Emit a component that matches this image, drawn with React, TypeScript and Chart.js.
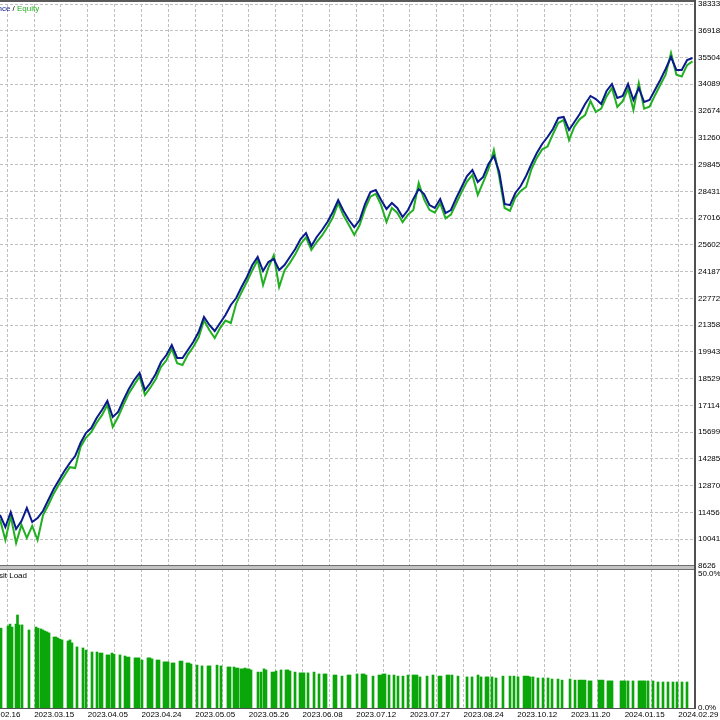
import React, { useEffect, useRef } from 'react';
import { Chart, registerables } from 'chart.js';

Chart.register(...registerables);

// Balance curve, one sample per session index
const BALANCE = [
  11322, 10687, 11480, 10582, 11004, 11692, 10952, 11163, 11533, 12114,
  12696, 13172, 13647, 14070, 14440, 15127, 15656, 15920, 16449, 16872,
  17348, 16502, 16766, 17400, 17982, 18458, 18828, 17929, 18299, 18775,
  19409, 19779, 20308, 19621, 19621, 20043, 20466, 20995, 21788, 21365,
  21048, 21471, 21894, 22422, 22792, 23374, 23902, 24537, 24959, 24219,
  24695, 24854, 24272, 24537, 24959, 25382, 25911, 26228, 25541, 26017,
  26387, 26810, 27338, 27972, 27391, 26915, 26545, 26915, 27761, 28395,
  28501, 27972, 27497, 27814, 27550, 27074, 27444, 28025, 28554, 28290,
  27708, 27550, 28025, 27285, 27444, 28078, 28660, 29241, 29558, 28924,
  29188, 29875, 30298, 29453, 27760, 27700, 28342, 28712, 29241, 29875,
  30457, 30933, 31303, 31726, 32307, 32360, 31673, 32096, 32518, 33047,
  33470, 33311, 33047, 33734, 34104, 33364, 33470, 34104, 33258, 33893,
  33153, 33258, 33787, 34316, 34897, 35531, 34844, 34844, 35373, 35479,
];

const EQUITY = [
  11100, 10000, 11250, 9841, 10800, 10105, 10750, 10000, 11300, 11850,
  12450, 12950, 13400, 13850, 13806, 14916, 15400, 15700, 16200, 16600,
  17150, 15973, 16500, 17150, 17750, 18200, 18650, 17664, 18050, 18500,
  19150, 19500, 20100, 19350, 19250, 19800, 20200, 20700, 21600, 21100,
  20677, 21200, 21600, 21470, 22500, 23100, 23650, 24250, 24800, 23479,
  24400, 25050, 23374, 24250, 24650, 25100, 25650, 26000, 25329, 25750,
  26100, 26550, 27050, 27800, 27150, 26650, 26122, 26650, 27500, 28150,
  28300, 27700, 26809, 27550, 27300, 26800, 27200, 27443, 28871, 28000,
  27450, 27300, 27800, 27000, 27200, 27800, 28400, 28950, 29300, 28236,
  28900, 29600, 30615, 29200, 27550, 27400, 28100, 28450, 28659, 29600,
  30200, 30650, 30800, 31450, 32050, 32200, 31144, 31850, 32250, 32465,
  33200, 32624, 32800, 33450, 33900, 32888, 33200, 33850, 32729, 34157,
  32800, 32900, 33500, 34050, 34600, 35743, 34600, 34500, 35100, 35300,
];

// Deposit load bars: session position and load in percent
const LOAD_AT = [
  0.19, 1.49, 1.86, 2.24, 2.98, 3.26, 3.54, 4.10, 5.40, 6.71,
  7.08, 7.64, 8.01, 8.38, 8.76, 9.13, 10.06, 10.43, 10.80, 11.18,
  11.55, 12.67, 13.04, 13.41, 14.34, 15.46, 16.02, 17.14, 18.07, 18.63,
  19.00, 19.93, 20.31, 20.86, 21.24, 22.35, 23.29, 23.66, 24.03, 25.15,
  25.52, 25.89, 26.45, 27.57, 27.94, 28.32, 29.25, 29.62, 30.55, 30.92,
  31.30, 32.04, 32.41, 33.53, 33.90, 34.84, 35.21, 35.58, 36.70, 37.63,
  38.75, 39.12, 40.43, 41.17, 42.47, 42.85, 43.59, 43.96, 44.34,
  44.90, 45.27, 45.64, 46.01, 46.39, 46.76, 48.06, 48.62, 49.18, 49.55,
  50.67, 51.04, 51.42, 52.35, 53.28, 53.65, 54.02, 54.96, 55.89, 56.26,
  56.63, 57.38, 58.50, 59.43, 60.36, 60.73, 62.22, 62.59, 63.71, 64.83,
  65.20, 66.51, 67.44, 67.81, 68.18, 69.49, 70.60, 70.98, 71.35, 71.72,
  72.47, 73.40, 74.14, 75.07, 76.01, 76.94, 77.31, 77.68, 78.24, 79.55,
  80.66, 81.78, 82.15, 83.27, 83.64, 84.20, 85.32, 87.00, 87.93, 89.05,
  89.61, 90.54, 90.91, 91.65, 92.40, 93.70, 95.01, 95.75, 96.50, 97.62,
  97.99, 98.36, 98.73, 99.29, 100.22, 101.16, 102.09, 102.83, 103.95, 104.70,
  106.19, 107.12, 107.86, 108.23, 108.61, 108.98, 109.72, 110.10, 111.59, 111.96,
  112.33, 113.26, 113.64, 114.01, 115.69, 116.06, 116.43, 116.99, 117.92, 119.04,
  119.41, 119.78, 120.16, 120.72, 121.65, 122.58, 123.51, 124.44, 125.37, 126.12,
  127.05, 127.98,
];

const LOAD_PCT = [
  29.8, 30.6, 31.3, 30.2, 31.3, 34.7, 31.0, 31.0, 29.1, 30.2,
  29.8, 29.5, 29.1, 28.7, 28.4, 28.0, 26.5, 26.5, 26.1, 25.7,
  25.4, 25.0, 25.4, 24.3, 22.8, 22.4, 21.6, 20.9, 20.9, 20.5,
  20.5, 19.8, 19.8, 20.5, 20.1, 19.8, 19.4, 19.0, 19.0, 18.7,
  18.7, 18.7, 17.9, 18.7, 18.7, 18.3, 17.9, 17.9, 17.2, 17.2,
  17.2, 16.8, 16.8, 17.5, 17.5, 16.8, 16.8, 16.4, 16.0, 15.7,
  15.7, 15.7, 16.0, 15.7, 15.3, 15.3, 15.3, 14.9, 14.9,
  14.6, 14.6, 14.9, 14.6, 14.6, 14.2, 13.4, 13.4, 14.6, 14.2,
  13.4, 13.4, 13.8, 14.2, 14.2, 14.2, 13.8, 13.4, 13.1, 13.1,
  13.1, 13.1, 13.4, 12.7, 12.7, 12.7, 12.3, 12.3, 11.9, 12.3,
  12.3, 12.7, 12.7, 12.7, 12.3, 11.9, 12.3, 12.3, 12.7, 12.7,
  12.3, 12.3, 11.9, 11.9, 12.3, 12.3, 12.3, 12.3, 11.6, 11.9,
  12.3, 11.9, 11.9, 12.3, 12.3, 12.3, 11.9, 11.6, 11.6, 12.3,
  11.6, 11.6, 11.6, 11.6, 11.2, 11.9, 11.9, 11.9, 11.6, 11.9,
  11.9, 11.9, 11.6, 11.6, 11.2, 11.2, 11.2, 10.8, 10.8, 10.4,
  10.8, 10.4, 10.4, 10.4, 10.4, 10.4, 10.1, 10.1, 10.4, 10.4,
  10.4, 10.1, 10.1, 10.1, 10.1, 10.1, 10.1, 10.1, 10.1, 10.1,
  10.1, 10.1, 10.1, 10.1, 10.1, 9.7, 9.7, 9.7, 9.7, 9.7,
  9.7, 9.7,
];

const Y_TICKS = [
  8626, 10041, 11456, 12870, 14285, 15699, 17114, 18529, 19943, 21358, 22772,
  24187, 25602, 27016, 28431, 29845, 31260, 32674, 34089, 35504, 36918, 38333,
];
const LOAD_TICKS = [0, 50];

const DATE_LABELS = [
  '2023.02.16', '2023.03.15', '2023.04.05', '2023.04.24', '2023.05.05',
  '2023.05.26', '2023.06.08', '2023.07.12', '2023.07.27', '2023.08.24',
  '2023.10.12', '2023.11.20', '2024.01.15', '2024.02.29',
];

// axis settings
const X_MAX = 129.47;
const X_GRID_START = -3.64;
const X_GRID_STEP = 5;
const X_GRID_COUNT = 27;
const Y_MIN = 8626;
const Y_MAX = 38333;
const LOAD_MAX = 52.99;

const FONT = 'Liberation Sans';
const BAL_COLOR = '#0a1a8c';
const EQ_COLOR = '#22b022';
const LOAD_COLOR = '#0aa60a';
const GRID_COLOR = '#c0c0c0';

const frameLegend = {
  id: 'mtFrame',
  afterDraw(chart: any) {
    const { ctx, chartArea: a, scales } = chart;
    const sep = scales.yLoad.top;
    ctx.save();
    // top frame
    ctx.fillStyle = '#5a5a5a';
    ctx.fillRect(0, 0, a.right + 1, 2);
    // pane separator
    ctx.fillStyle = '#6e6e6e';
    ctx.fillRect(0, sep - 1, a.right, 5);
    ctx.fillStyle = '#c4c4c4';
    ctx.fillRect(0, sep, a.right, 3);
    // bottom line and right axis line
    ctx.fillStyle = '#505050';
    ctx.fillRect(0, a.bottom, a.right, 1);
    ctx.fillRect(a.right - 1, 0, 2, a.bottom + 1);
    // legends
    ctx.font = `8px "${FONT}"`;
    ctx.textBaseline = 'middle';
    const lx = a.left + 17;
    const ly = a.top + 5;
    ctx.textAlign = 'left';
    ctx.fillStyle = EQ_COLOR;
    ctx.fillText('Equity', lx, ly);
    ctx.textAlign = 'right';
    ctx.fillStyle = '#000000';
    ctx.fillText(' / ', lx, ly);
    const slashW = ctx.measureText(' / ').width;
    ctx.fillStyle = BAL_COLOR;
    ctx.fillText('Balance', lx - slashW, ly);
    ctx.fillStyle = '#000000';
    ctx.fillText('Deposit Load', a.left + 27, sep + 10);
    ctx.restore();
  },
};

export default function App() {
  const ref = useRef<HTMLCanvasElement>(null);

  useEffect(() => {
    const canvas = ref.current;
    if (!canvas) return;
    const tickFont = { family: FONT, size: 8 };
    const xGrid = Array.from({ length: X_GRID_COUNT }, (_, i) => X_GRID_START + i * X_GRID_STEP);

    const chart = new Chart(canvas, {
      type: 'line',
      data: {
        datasets: [
          {
            label: 'Balance',
            data: BALANCE.map((y, x) => ({ x, y })),
            borderColor: BAL_COLOR,
            borderWidth: 2,
            pointRadius: 0,
            tension: 0,
            yAxisID: 'y',
            order: 0,
          },
          {
            label: 'Equity',
            data: EQUITY.map((y, x) => ({ x, y })),
            borderColor: EQ_COLOR,
            borderWidth: 2,
            pointRadius: 0,
            tension: 0,
            yAxisID: 'y',
            order: 1,
          },
          {
            type: 'bar',
            label: 'Deposit Load',
            data: LOAD_AT.map((x, i) => ({ x, y: LOAD_PCT[i] })),
            backgroundColor: LOAD_COLOR,
            borderWidth: 0,
            barThickness: 2,
            grouped: false,
            yAxisID: 'yLoad',
            order: 2,
          } as any,
        ],
      },
      options: {
        responsive: false,
        animation: false,
        devicePixelRatio: 1,
        events: [],
        layout: { padding: { top: 4, left: 0, right: 0, bottom: 0 } },
        plugins: { legend: { display: false }, tooltip: { enabled: false } },
        scales: {
          x: {
            type: 'linear',
            min: 0,
            max: X_MAX,
            bounds: 'data',
            offset: false,
            grid: { color: GRID_COLOR, lineWidth: 1, drawTicks: false, offset: false },
            border: { display: false, dash: [3, 2] },
            ticks: {
              autoSkip: false,
              maxRotation: 0,
              minRotation: 0,
              align: 'start',
              padding: 2,
              color: '#000000',
              font: tickFont,
              callback: (_v: any, i: number) => (i % 2 === 0 ? DATE_LABELS[i / 2] : ''),
            },
            afterBuildTicks: (s: any) => {
              s.ticks = xGrid.filter((v) => v <= X_MAX).map((value) => ({ value }));
            },
            afterFit: (s: any) => {
              s.height = 12;
              s.paddingLeft = 0;
              s.paddingRight = 0;
            },
          },
          y: {
            type: 'linear',
            position: 'right',
            stack: 'panes',
            stackWeight: 562,
            min: Y_MIN,
            max: Y_MAX,
            bounds: 'data',
            grid: { color: GRID_COLOR, lineWidth: 1, drawTicks: false },
            border: { display: false, dash: [3, 2] },
            ticks: {
              padding: 3,
              color: '#000000',
              font: tickFont,
              callback: (v: any) => String(v),
            },
            afterBuildTicks: (s: any) => {
              s.ticks = Y_TICKS.map((value) => ({ value }));
            },
            afterFit: (s: any) => {
              s.width = 25;
              s.paddingTop = 0;
              s.paddingBottom = 0;
            },
          },
          yLoad: {
            type: 'linear',
            position: 'right',
            stack: 'panes',
            stackWeight: 142,
            min: 0,
            max: LOAD_MAX,
            bounds: 'data',
            grid: { display: false, drawTicks: false },
            border: { display: false },
            ticks: {
              padding: 3,
              color: '#000000',
              font: tickFont,
              callback: (v: any) => Number(v).toFixed(1) + '%',
            },
            afterBuildTicks: (s: any) => {
              s.ticks = LOAD_TICKS.map((value) => ({ value }));
            },
            afterFit: (s: any) => {
              s.width = 25;
              s.paddingTop = 0;
              s.paddingBottom = 0;
            },
          },
        } as any,
      },
      plugins: [frameLegend],
    });
    return () => chart.destroy();
  }, []);

  return (
    <div style={{ position: 'fixed', left: 0, top: 0, width: 720, height: 720, background: '#ffffff' }}>
      <canvas ref={ref} width={720} height={720} style={{ display: 'block', width: 720, height: 720 }} />
    </div>
  );
}
